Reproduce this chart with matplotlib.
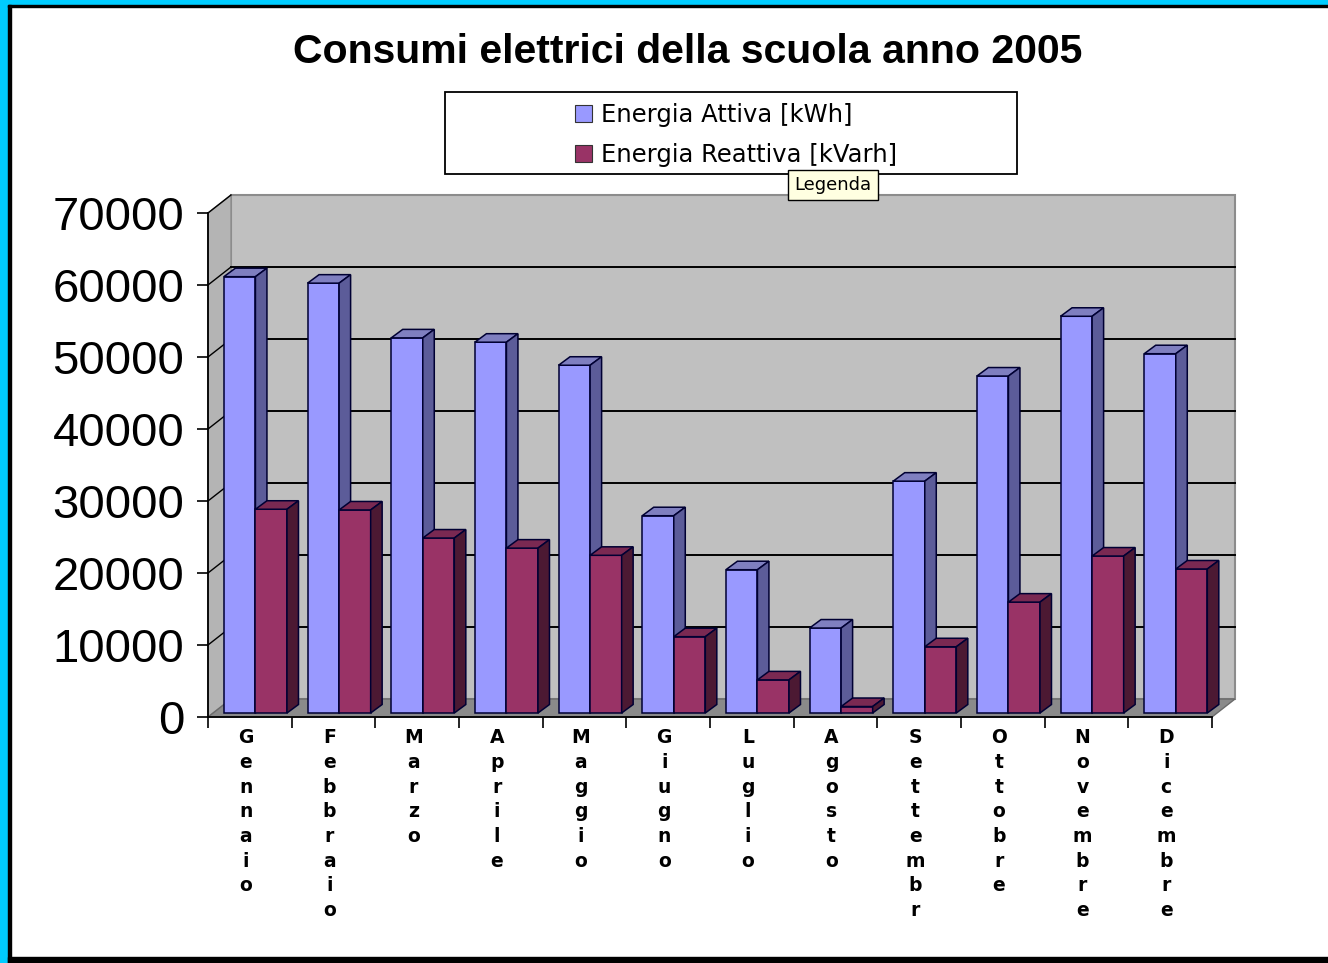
import matplotlib.pyplot as plt
from matplotlib.patches import Patch, Rectangle

# dati
mesi = ['Gennaio', 'Febbraio', 'Marzo', 'Aprile', 'Maggio', 'Giugno',
        'Luglio', 'Agosto', 'Settembre', 'Ottobre', 'Novembre', 'Dicembre']
attiva = [60600, 59700, 52100, 51500, 48300, 27400, 19900, 11800, 32200, 46800, 55100, 49900]
reattiva = [28300, 28200, 24300, 22900, 21900, 10600, 4600, 900, 9200, 15400, 21800, 20000]
serie = ['Energia Attiva [kWh]', 'Energia Reattiva [kVarh]']
yticks = [0, 10000, 20000, 30000, 40000, 50000, 60000, 70000]

W, H = 1328, 963
fig = plt.figure(figsize=(W / 100, H / 100), dpi=100)
fig.patch.set_facecolor('white')

ax = fig.add_axes([208 / W, 246 / H, 1004 / W, 504 / H])
ax.set_xlim(0, 12)
ax.set_ylim(0, 70000)
ax.set_facecolor('none')


def px(dx, dy):
    # offset in pixel -> offset in unita' dati
    x0, y0 = ax.transData.transform((0, 0))
    return ax.transData.inverted().transform((x0 + dx, y0 + dy))


wx, wy = px(23, 18)     # profondita' pareti
rx, ry = px(6, 4)       # arretramento barre
bx, by = px(11.5, 8.5)  # profondita' barre
lx, _ = px(4, 0)        # spostamento etichette mesi

# pareti e pavimento
ax.fill([wx, 12 + wx, 12 + wx, wx], [wy, wy, 70000 + wy, 70000 + wy],
        color='#c0c0c0', ec='#8c8c8c', lw=1.5, zorder=0.5, clip_on=False)
ax.fill([0, wx, wx, 0], [0, wy, 70000 + wy, 70000],
        color='#b4b4b4', ec='#8c8c8c', lw=1, zorder=0.5, clip_on=False)
ax.fill([0, 12, 12 + wx, wx], [0, 0, wy, wy],
        color='#8a8a8a', ec='#6a6a6a', lw=1, zorder=0.5, clip_on=False)
for v in yticks[1:-1]:
    ax.plot([wx, 12 + wx], [v + wy, v + wy], color='black', lw=1.4, zorder=0.6, clip_on=False)
for v in yticks[1:]:
    ax.plot([0, wx], [v, v + wy], color='black', lw=1, zorder=0.6, clip_on=False)

w = 0.377
gap = 0.19
edge = '#000033'
stili = [('#9999ff', '#7f7fc0', '#5c5c99'), ('#993366', '#7a2952', '#4c1933')]

z = 2
for i in range(len(mesi)):
    for k, vals in enumerate([attiva, reattiva]):
        face, top, side = stili[k]
        x0 = i + gap + k * w
        v = vals[i]
        ax.bar(x0, v, width=w, bottom=ry, align='edge', color=face,
               edgecolor=edge, lw=1.1, zorder=z, clip_on=False)
        ax.fill([x0, x0 + w, x0 + w + bx, x0 + bx], [ry + v, ry + v, ry + v + by, ry + v + by],
                color=top, ec=edge, lw=1.1, zorder=z + 0.01, clip_on=False)
        ax.fill([x0 + w, x0 + w + bx, x0 + w + bx, x0 + w], [ry, ry + by, ry + v + by, ry + v],
                color=side, ec=edge, lw=1.1, zorder=z + 0.01, clip_on=False)
        z += 0.1

# assi
for s in ['top', 'right']:
    ax.spines[s].set_visible(False)
for s in ['left', 'bottom']:
    ax.spines[s].set_color('black')
    ax.spines[s].set_linewidth(1.3)
    ax.spines[s].set_zorder(10)

ax.set_yticks(yticks)
ax.set_yticklabels([str(t) for t in yticks], fontsize=34, family='Liberation Sans')
ax.tick_params(axis='y', direction='out', length=8, width=1.2, pad=9)

ax.set_xticks(range(13))
ax.set_xticklabels([])
ax.tick_params(axis='x', which='major', direction='out', length=8, width=1.2)
ax.set_xticks([i + 0.5 - lx for i in range(12)], minor=True)
# nel grafico originale le etichette verticali si fermano all'ottava lettera
ax.set_xticklabels(['\n'.join(m[:8]) for m in mesi], minor=True, fontsize=13.5,
                   fontweight='bold', family='DejaVu Sans', linespacing=1.38)
ax.tick_params(axis='x', which='minor', length=0, pad=8)

# titolo
fig.text(687.5 / W, 1 - 52 / H, 'Consumi elettrici della scuola anno 2005',
         ha='center', va='center', fontsize=29.5, fontweight='bold', family='Liberation Sans')

# legenda
fig.patches.append(Rectangle((445 / W, 1 - 174 / H), 572 / W, 82 / H, transform=fig.transFigure,
                             facecolor='white', edgecolor='black', lw=1.3))
handles = [Patch(facecolor=stili[0][0], edgecolor='#333333', lw=0.8),
           Patch(facecolor=stili[1][0], edgecolor='#333333', lw=0.8)]
fig.legend(handles, serie, loc='center', bbox_to_anchor=(736 / W, 1 - 135 / H), frameon=False,
           prop={'family': 'DejaVu Sans', 'size': 17.5}, handlelength=0.7, handleheight=0.7,
           handletextpad=0.4, labelspacing=0.62, borderpad=0)
fig.text(833 / W, 1 - 185 / H, 'Legenda', ha='center', va='center', fontsize=13, family='DejaVu Sans',
         bbox=dict(boxstyle='square,pad=0.33', facecolor='#ffffe1', edgecolor='black', lw=1))

# cornice
fig.patches.append(Rectangle((0, 0), 8 / W, 1, transform=fig.transFigure, color='#00ccff'))
fig.patches.append(Rectangle((0, 1 - 5 / H), 1, 5 / H, transform=fig.transFigure, color='#00ccff'))
fig.patches.append(Rectangle((8 / W, 0), 3 / W, 1 - 5 / H, transform=fig.transFigure, color='black'))
fig.patches.append(Rectangle((8 / W, 1 - 7 / H), 1, 2 / H, transform=fig.transFigure, color='black'))
fig.patches.append(Rectangle((8 / W, 0), 1, 6 / H, transform=fig.transFigure, color='black'))

plt.savefig('out.png', dpi=100)
